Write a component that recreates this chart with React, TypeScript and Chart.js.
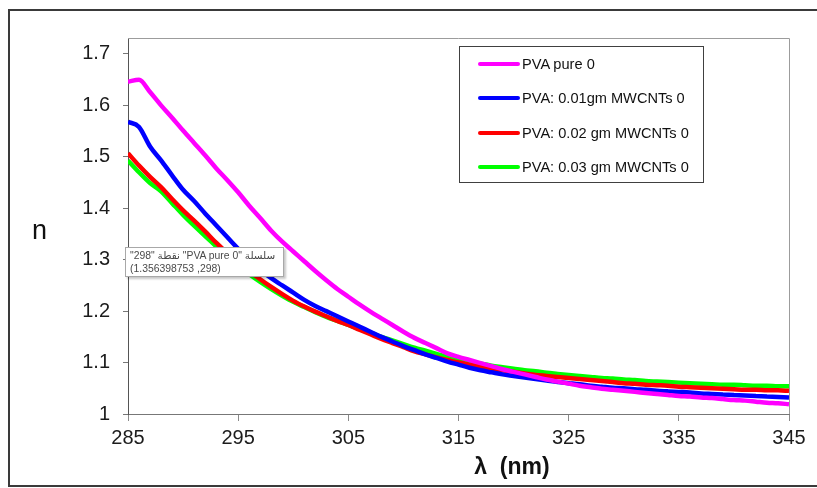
import { useEffect, useRef } from "react";
import { Chart, registerables } from "chart.js";

Chart.register(...registerables);

// Wavelength (nm)
const wavelengths = [
  285, 286, 287, 288, 289, 290, 291, 292, 293, 294,
  295, 296, 297, 298, 299, 300, 301, 302, 303, 304,
  305, 306, 307, 308, 309, 310, 311, 312, 313, 314,
  315, 316, 317, 318, 319, 320, 321, 322, 323, 324,
  325, 326, 327, 328, 329, 330, 331, 332, 333, 334,
  335, 336, 337, 338, 339, 340, 341, 342, 343, 344,
  345,
];

// Refractive index n for each sample
const pvaPure = [
  1.646, 1.65, 1.626, 1.6, 1.576, 1.551, 1.527, 1.503, 1.478, 1.455,
  1.431, 1.405, 1.381, 1.356398753, 1.335, 1.316, 1.297, 1.278, 1.26, 1.243,
  1.228, 1.213, 1.199, 1.186, 1.173, 1.16, 1.148, 1.138, 1.128, 1.118,
  1.111, 1.105, 1.099, 1.093, 1.087, 1.082, 1.077, 1.072, 1.067, 1.063,
  1.059, 1.055, 1.052, 1.049, 1.047, 1.045, 1.043, 1.041, 1.039, 1.037,
  1.035, 1.034, 1.032, 1.031, 1.029, 1.027, 1.026, 1.024, 1.022, 1.021,
  1.019,
];

const mwcnt001 = [
  1.568, 1.558, 1.52, 1.493, 1.464, 1.436, 1.414, 1.39, 1.367, 1.344,
  1.321, 1.298, 1.28, 1.264, 1.25, 1.236, 1.222, 1.21, 1.2, 1.19,
  1.18, 1.17, 1.16, 1.15, 1.141, 1.132, 1.124, 1.116, 1.109, 1.102,
  1.096, 1.09, 1.085, 1.081, 1.077, 1.074, 1.071, 1.068, 1.065, 1.062,
  1.06, 1.058, 1.055, 1.053, 1.051, 1.05, 1.048, 1.047, 1.045, 1.044,
  1.043, 1.042, 1.04, 1.039, 1.038, 1.037, 1.036, 1.035, 1.034, 1.033,
  1.032,
];

const mwcnt002 = [
  1.507, 1.483, 1.461, 1.441, 1.418, 1.396, 1.376, 1.355, 1.333, 1.313,
  1.295, 1.278, 1.262, 1.247, 1.233, 1.22, 1.209, 1.199, 1.19, 1.181,
  1.173, 1.164, 1.155, 1.146, 1.138, 1.13, 1.122, 1.116, 1.11, 1.105,
  1.1, 1.096, 1.092, 1.088, 1.085, 1.082, 1.079, 1.076, 1.074, 1.072,
  1.07, 1.068, 1.066, 1.064, 1.062, 1.06, 1.059, 1.057, 1.056, 1.055,
  1.053, 1.052, 1.051, 1.05, 1.049, 1.048, 1.047, 1.047, 1.046, 1.046,
  1.045,
];

const mwcnt003 = [
  1.493, 1.47, 1.449, 1.433, 1.41, 1.387, 1.366, 1.346, 1.326, 1.306,
  1.288, 1.272, 1.257, 1.243, 1.23, 1.218, 1.208, 1.198, 1.189, 1.181,
  1.173, 1.165, 1.158, 1.15, 1.143, 1.136, 1.129, 1.123, 1.117, 1.111,
  1.106, 1.102, 1.098, 1.094, 1.091, 1.088, 1.085, 1.083, 1.08, 1.078,
  1.076, 1.074, 1.072, 1.07, 1.069, 1.067, 1.066, 1.064, 1.063, 1.062,
  1.061, 1.06, 1.059, 1.058, 1.057, 1.057, 1.056, 1.055, 1.055, 1.054,
  1.054,
];

const seriesNames = [
  "PVA pure 0",
  "PVA: 0.01gm MWCNTs 0",
  "PVA: 0.02 gm MWCNTs 0",
  "PVA: 0.03 gm MWCNTs 0",
];
const seriesColors = ["#ff00ff", "#0000ff", "#ff0000", "#00ff00"];
const seriesValues = [pvaPure, mwcnt001, mwcnt002, mwcnt003];

const xTickValues = [285, 295, 305, 315, 325, 335, 345];
const yTickValues = [1, 1.1, 1.2, 1.3, 1.4, 1.5, 1.6, 1.7];

// Data tip shown for the hovered point
const tipLine1 = 'سلسلة "PVA pure 0" نقطة "298"';
const tipLine2 = "(298, 1.356398753)";

const FONT = "'Liberation Sans', Arial, Helvetica, sans-serif";

// Light frame on the top and right of the plot area
const plotFrame = {
  id: "plotFrame",
  beforeDatasetsDraw(chart: any) {
    const { ctx, chartArea } = chart;
    const { left, top, right, bottom } = chartArea;
    ctx.save();
    ctx.strokeStyle = "#9c9c9c";
    ctx.lineWidth = 1;
    ctx.beginPath();
    ctx.moveTo(left, top + 0.5);
    ctx.lineTo(right + 0.5, top + 0.5);
    ctx.lineTo(right + 0.5, bottom);
    ctx.stroke();
    ctx.restore();
  },
};

export default function App() {
  const canvasRef = useRef<HTMLCanvasElement | null>(null);

  useEffect(() => {
    const canvas = canvasRef.current;
    if (!canvas) return;

    const datasets = seriesNames.map((name, i) => ({
      label: name,
      data: wavelengths.map((w, k) => ({ x: w, y: seriesValues[i][k] })),
      borderColor: seriesColors[i],
      backgroundColor: seriesColors[i],
      borderWidth: 4.5,
      pointRadius: 0,
      cubicInterpolationMode: "monotone" as const,
      fill: false,
    }));

    const chart = new Chart(canvas, {
      type: "line",
      data: { datasets },
      plugins: [plotFrame],
      options: {
        responsive: false,
        animation: false,
        layout: { padding: { left: 0, right: 28, top: 38, bottom: 0 } },
        plugins: {
          legend: { display: false },
          tooltip: { enabled: false },
        },
        scales: {
          x: {
            type: "linear",
            min: 285,
            max: 345,
            afterBuildTicks: (scale: any) => {
              scale.ticks = xTickValues.map((v) => ({ value: v }));
            },
            afterFit: (scale: any) => {
              scale.height = 74;
            },
            border: { color: "#777777", width: 1 },
            grid: {
              drawOnChartArea: false,
              drawTicks: true,
              tickLength: 7,
              tickColor: "#8a8a8a",
            },
            ticks: {
              padding: 5,
              color: "#1c1c1c",
              font: { family: FONT, size: 20 },
              maxRotation: 0,
              autoSkip: false,
              callback: (v: any) => String(v),
            },
          },
          y: {
            type: "linear",
            min: 1,
            max: 1.731,
            afterBuildTicks: (scale: any) => {
              scale.ticks = yTickValues.map((v) => ({ value: v }));
            },
            afterFit: (scale: any) => {
              scale.width = 128;
            },
            border: { color: "#555555", width: 1 },
            grid: {
              drawOnChartArea: false,
              drawTicks: true,
              tickLength: 5,
              tickColor: "#777777",
            },
            ticks: {
              padding: 13,
              color: "#1c1c1c",
              font: { family: FONT, size: 20 },
              autoSkip: false,
              callback: (v: any) => String(v),
            },
          },
        },
      },
    });

    return () => chart.destroy();
  }, []);

  return (
    <div
      style={{
        position: "absolute",
        left: 0,
        top: 0,
        width: 817,
        height: 488,
        background: "#ffffff",
        overflow: "hidden",
        fontFamily: FONT,
      }}
    >
      <canvas
        ref={canvasRef}
        width={817}
        height={488}
        style={{ position: "absolute", left: 0, top: 0, width: 817, height: 488 }}
      />

      {/* chart outer frame */}
      <div
        style={{
          position: "absolute",
          left: 8,
          top: 9,
          width: 830,
          height: 474,
          borderTop: "2px solid #3a3a3a",
          borderLeft: "2px solid #3a3a3a",
          borderBottom: "2px solid #3a3a3a",
          pointerEvents: "none",
        }}
      />

      {/* y axis title */}
      <div
        style={{
          position: "absolute",
          left: 32,
          top: 215,
          fontSize: 27,
          lineHeight: "30px",
          color: "#111",
        }}
      >
        n
      </div>

      {/* x axis title */}
      <div
        style={{
          position: "absolute",
          left: 412,
          width: 200,
          top: 453,
          textAlign: "center",
          fontSize: 23,
          fontWeight: "bold",
          lineHeight: "26px",
          color: "#111",
          whiteSpace: "pre",
        }}
      >
        {"λ  (nm)"}
      </div>

      {/* legend */}
      <div
        style={{
          position: "absolute",
          left: 459,
          top: 46,
          width: 245,
          height: 137,
          border: "1px solid #404040",
          background: "#ffffff",
          boxSizing: "border-box",
        }}
      >
        {seriesNames.map((name, i) => (
          <div
            key={name}
            style={{
              position: "absolute",
              left: 18,
              top: 9 + i * 34.3,
              height: 16,
              display: "flex",
              alignItems: "center",
              whiteSpace: "nowrap",
            }}
          >
            <span
              style={{
                display: "inline-block",
                width: 42,
                height: 4,
                borderRadius: 2,
                background: seriesColors[i],
                marginRight: 2,
              }}
            />
            <span style={{ fontSize: 14.6, color: "#111", lineHeight: "16px" }}>{name}</span>
          </div>
        ))}
      </div>

      {/* data tip */}
      <div
        dir="rtl"
        style={{
          position: "absolute",
          left: 125,
          top: 247,
          width: 159,
          height: 30,
          boxSizing: "border-box",
          border: "1px solid #a8a8a8",
          background: "#ffffff",
          boxShadow: "2px 2px 2px rgba(0,0,0,0.22)",
          padding: "1px 3px 0 4px",
          fontSize: 10.4,
          lineHeight: "13px",
          color: "#4a4a4a",
          textAlign: "left",
          whiteSpace: "nowrap",
          fontFamily: "'Liberation Sans', 'Noto Sans', 'DejaVu Sans', sans-serif",
        }}
      >
        <div>{tipLine1}</div>
        <div>{tipLine2}</div>
      </div>
    </div>
  );
}
